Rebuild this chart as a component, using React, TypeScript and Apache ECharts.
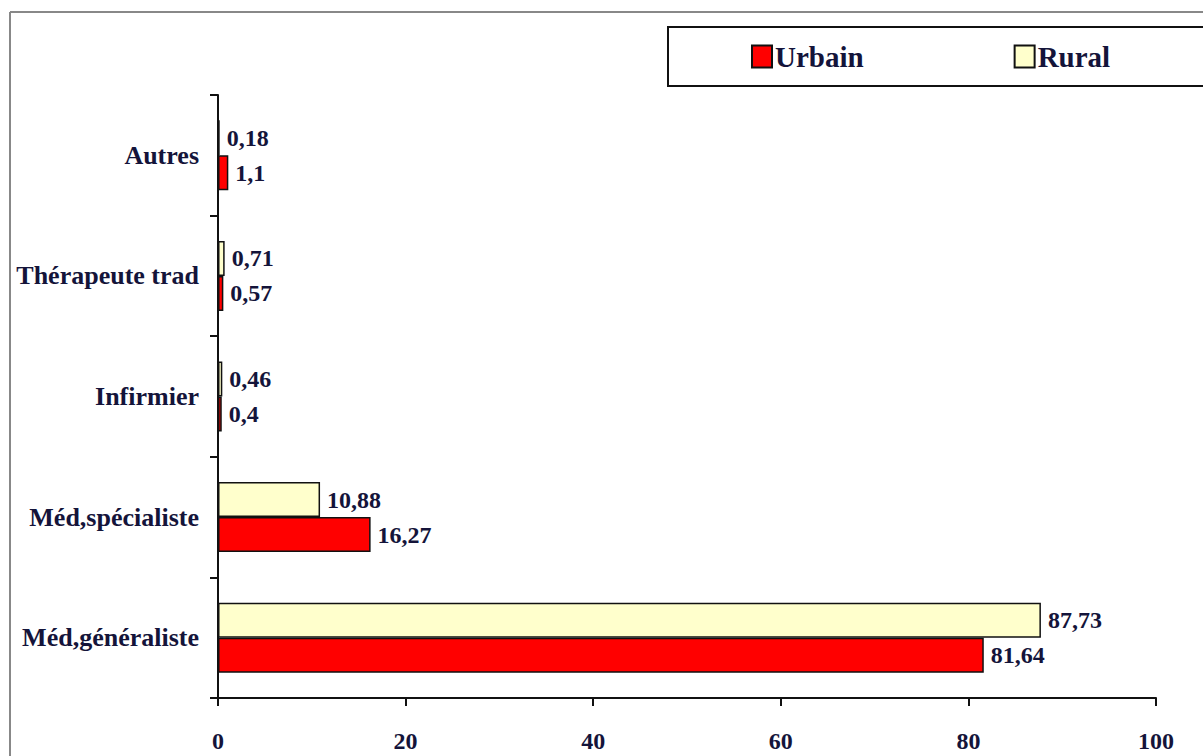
import React, { useEffect, useRef } from "react";
import * as echarts from "echarts";

const categories = ["Méd,généraliste", "Méd,spécialiste", "Infirmier", "Thérapeute trad", "Autres"];
const urbain = [81.64, 16.27, 0.4, 0.57, 1.1];
const rural = [87.73, 10.88, 0.46, 0.71, 0.18];
const xTicks = [0, 20, 40, 60, 80, 100];

const FONT = "'Liberation Serif', 'Times New Roman', serif";
const TXT = "#14143a";

export default function App() {
  const ref = useRef<HTMLDivElement>(null);
  useEffect(() => {
    if (!ref.current) return;
    const chart = echarts.init(ref.current, undefined, { renderer: "svg" });
    const fmt = (p: any) => String(p.value).replace(".", ",");
    chart.setOption({
      animation: false,
      backgroundColor: "#fff",
      graphic: [
        { type: "line", shape: { x1: 10, y1: 12, x2: 1210, y2: 12 }, style: { stroke: "#888", lineWidth: 2 } },
        { type: "line", shape: { x1: 10, y1: 12, x2: 10, y2: 760 }, style: { stroke: "#888", lineWidth: 2 } },
        { type: "rect", shape: { x: 668, y: 27, width: 600, height: 59 }, style: { fill: "#fff", stroke: "#111", lineWidth: 2 }, z: -1 },
      ],
      legend: {
        data: ["Urbain", "Rural"],
        left: 746,
        top: 37,
        itemWidth: 20,
        itemHeight: 22,
        itemGap: 150,
        icon: "rect",
        textStyle: { fontFamily: FONT, fontWeight: "bold", fontSize: 29, color: TXT, padding: [0, 0, 0, -2] },
      },
      grid: { left: 218, right: 47, top: 95, bottom: 58 },
      xAxis: {
        type: "value",
        min: 0,
        max: 100,
        interval: 20,
        splitLine: { show: false },
        axisLine: { show: true, lineStyle: { color: "#111", width: 2 } },
        axisTick: { show: true, length: 8, lineStyle: { color: "#111", width: 2 } },
        axisLabel: {
          margin: 31,
          fontFamily: FONT,
          fontWeight: "bold",
          fontSize: 24,
          color: TXT,
          formatter: (v: number) => (xTicks.includes(v) ? String(v) : ""),
        },
      },
      yAxis: {
        type: "category",
        data: categories,
        axisLine: { show: true, lineStyle: { color: "#111", width: 2 } },
        axisTick: { show: true, length: 8, lineStyle: { color: "#111", width: 2 } },
        axisLabel: { margin: 19, fontFamily: FONT, fontWeight: "bold", fontSize: 26, color: TXT },
      },
      series: [
        {
          name: "Rural",
          type: "bar",
          data: rural,
          barWidth: 35,
          barGap: "0%",
          itemStyle: { color: "#FFFFCC", borderColor: "#111", borderWidth: 1.5 },
          label: { show: true, position: "right", distance: 7, formatter: fmt, fontFamily: FONT, fontWeight: "bold", fontSize: 24, color: TXT },
        },
        {
          name: "Urbain",
          type: "bar",
          data: urbain,
          barWidth: 35,
          barGap: "0%",
          itemStyle: { color: "#FF0000", borderColor: "#111", borderWidth: 1.5 },
          label: { show: true, position: "right", distance: 7, formatter: fmt, fontFamily: FONT, fontWeight: "bold", fontSize: 24, color: TXT },
        },
      ],
    });
    return () => chart.dispose();
  }, []);
  return <div ref={ref} style={{ width: 1203, height: 756, position: "absolute", left: 0, top: 0 }} />;
}
